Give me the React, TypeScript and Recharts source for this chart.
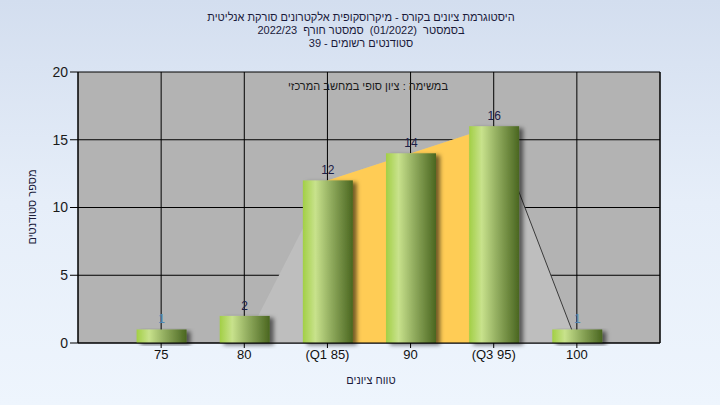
import React from "react";
import {
  ComposedChart,
  Bar,
  Area,
  XAxis,
  YAxis,
  CartesianGrid,
  LabelList,
} from "recharts";

const scores = [75, 80, 85, 90, 95, 100];
const counts = [1, 2, 12, 14, 16, 1];
const spreadValues: (number | null)[] = [null, 0, 12, null, 16, 0];
const iqrValues: (number | null)[] = [null, null, 12, null, 16, null];
const tailValues: (number | null)[] = [null, null, null, null, 16, 0];
const yTicks = [0, 5, 10, 15, 20];
const tickNames: Record<number, string> = { 85: "(Q1 85)", 95: "(Q3 95)" };

const titleLines = [
  "היסטוגרמת ציונים בקורס - מיקרוסקופית אלקטרונים סורקת אנליטית",
  "בסמסטר  (01/2022)  סמסטר חורף  2022/23",
  "סטודנטים רשומים - 39",
];
const innerTitle = "במשימה : ציון סופי במחשב המרכזי";
const xLabel = "טווח ציונים";
const yLabel = "מספר סטודנטים";

const data = scores.map((s, i) => ({
  score: s,
  count: counts[i],
  spread: spreadValues[i],
  iqr: iqrValues[i],
  tail: tailValues[i],
}));

const FONT = "'Liberation Sans', Arial, sans-serif";

const BarShape = (props: any) => {
  const { x, y, width, height } = props;
  if (height <= 0) return null;
  return (
    <rect
      x={x}
      y={y}
      width={width}
      height={height}
      fill="url(#barGrad)"
      filter="url(#barShadow)"
    />
  );
};

const ValueLabel = (props: any) => {
  const { x, y, width, value } = props;
  return (
    <text
      x={x + width / 2}
      y={y - 6}
      textAnchor="middle"
      fontSize={12}
      fontFamily={FONT}
      fill={value === 1 ? "#4d86b3" : "#1c2048"}
    >
      {value}
    </text>
  );
};

const rtlStyle: any = { direction: "rtl", unicodeBidi: "embed", whiteSpace: "pre" };

export default function App() {
  return (
    <div
      style={{
        position: "absolute",
        left: 0,
        top: 0,
        width: 720,
        height: 405,
        background: "linear-gradient(to bottom, #d3deef 0%, #e6eef9 50%, #eef5fd 100%)",
        fontFamily: FONT,
      }}
    >
      <svg
        width={720}
        height={405}
        style={{ position: "absolute", left: 0, top: 0, pointerEvents: "none" }}
      >
        {titleLines.map((t, i) => (
          <text
            key={i}
            x={361}
            y={21 + i * 13}
            textAnchor="middle"
            fontSize={11}
            fontFamily={FONT}
            fill="#1a1a3a"
            xmlSpace="preserve"
            style={rtlStyle}
          >
            {t}
          </text>
        ))}
      </svg>
      <ComposedChart
        width={720}
        height={405}
        data={data}
        margin={{ top: 72, right: 10, left: 18, bottom: 32 }}
        style={{ position: "absolute", left: 0, top: 0 }}
      >
        <defs>
          <linearGradient id="barGrad" x1="0" y1="0" x2="1" y2="0">
            <stop offset="0%" stopColor="#a2cf45" />
            <stop offset="25%" stopColor="#c8e28c" />
            <stop offset="55%" stopColor="#93ae60" />
            <stop offset="100%" stopColor="#4a6620" />
          </linearGradient>
          <filter id="barShadow" x="-20%" y="-10%" width="160%" height="130%">
            <feDropShadow dx="4" dy="2" stdDeviation="2" floodColor="#000" floodOpacity="0.55" />
          </filter>
        </defs>
        <CartesianGrid
          yAxisId="left"
          stroke="#000"
          strokeOpacity={1}
          fill="#b3b3b3"
          fillOpacity={1}
        />
        <XAxis
          dataKey="score"
          type="number"
          domain={[70, 105]}
          ticks={scores}
          interval={0}
          allowDataOverflow
          height={30}
          tickSize={5}
          tickFormatter={(v: number) => tickNames[v] ?? String(v)}
          tick={{ fill: "#111", fontSize: 13, fontFamily: FONT }}
          axisLine={{ stroke: "#000" }}
          tickLine={{ stroke: "#000" }}
        />
        <YAxis
          yAxisId="left"
          domain={[0, 20]}
          ticks={yTicks}
          width={60}
          tickSize={8}
          tick={{ fill: "#1a1a1a", fontSize: 14, fontFamily: FONT }}
          axisLine={{ stroke: "#000" }}
          tickLine={{ stroke: "#000" }}
        />
        <YAxis
          yAxisId="right"
          orientation="right"
          domain={[0, 20]}
          ticks={yTicks}
          width={50}
          tickSize={8}
          tick={{ fill: "#0c2a78", fontSize: 14, fontFamily: FONT }}
          axisLine={{ stroke: "#000" }}
          tickLine={{ stroke: "#000" }}
        />
        <Area
          yAxisId="left"
          type="linear"
          dataKey="spread"
          connectNulls
          stroke="none"
          fill="#bebebe"
          fillOpacity={1}
          isAnimationActive={false}
          dot={false}
          activeDot={false}
        />
        <Area
          yAxisId="left"
          type="linear"
          dataKey="iqr"
          connectNulls
          stroke="none"
          fill="#ffcc55"
          fillOpacity={1}
          isAnimationActive={false}
          dot={false}
          activeDot={false}
        />
        <Area
          yAxisId="left"
          type="linear"
          dataKey="tail"
          connectNulls
          stroke="#3a3a3a"
          strokeWidth={1}
          fill="none"
          fillOpacity={0}
          isAnimationActive={false}
          dot={false}
          activeDot={false}
        />
        <Bar
          yAxisId="left"
          dataKey="count"
          barSize={50}
          shape={BarShape}
          isAnimationActive={false}
        >
          <LabelList dataKey="count" content={ValueLabel} />
        </Bar>
        <text
          x={368}
          y={90}
          textAnchor="middle"
          fontSize={11}
          fontFamily={FONT}
          fill="#1a1a1a"
          style={rtlStyle}
        >
          {innerTitle}
        </text>
        <text
          x={371}
          y={384}
          textAnchor="middle"
          fontSize={11}
          fontFamily={FONT}
          fill="#1a1a3a"
          style={rtlStyle}
        >
          {xLabel}
        </text>
        <text
          x={36}
          y={207}
          textAnchor="middle"
          fontSize={11}
          fontFamily={FONT}
          fill="#1a1a3a"
          transform="rotate(-90 36 207)"
          style={rtlStyle}
        >
          {yLabel}
        </text>
      </ComposedChart>
    </div>
  );
}
